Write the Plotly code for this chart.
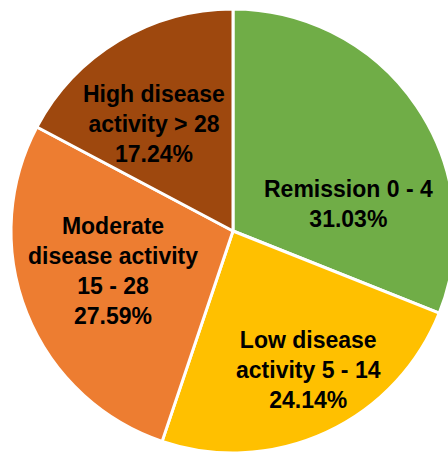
import plotly.graph_objects as go

# Patient counts by disease-activity category
categories = ["Remission 0 - 4", "Low disease<br>activity 5 - 14",
              "Moderate<br>disease activity<br>15 - 28", "High disease<br>activity > 28"]
patients = [9, 7, 8, 5]
colors = ["#70AD47", "#FFC000", "#ED7D31", "#9E480E"]

# Label anchor points (pixels from the top-left of the page)
label_px = [(348, 204), (308, 370), (113, 271), (154, 124)]

W, H = 455, 455
ML, MT, MR, MB = 11, 9, 0, 2
plot_w, plot_h = W - ML - MR, H - MT - MB

fig = go.Figure(go.Pie(
    labels=categories,
    values=patients,
    sort=False,
    direction="clockwise",
    rotation=0,
    marker=dict(colors=colors, line=dict(color="white", width=3)),
    textinfo="none",
    hoverinfo="label+percent",
))

total = sum(patients)
for name, n, (px, py) in zip(categories, patients, label_px):
    fig.add_annotation(
        x=(px - ML) / plot_w, y=1 - (py - MT) / plot_h,
        xref="paper", yref="paper",
        xanchor="center", yanchor="middle",
        text=f"{name}<br>{100 * n / total:.2f}%",
        showarrow=False,
        font=dict(family="Liberation Sans, Arial, sans-serif", size=23,
                  color="black", weight="bold"),
    )

fig.update_layout(
    width=W, height=H,
    margin=dict(l=ML, r=MR, t=MT, b=MB),
    showlegend=False,
    paper_bgcolor="white",
)

fig.write_html(
    "out.html",
    post_script="document.body.style.margin='0';document.body.style.overflow='hidden';",
)
